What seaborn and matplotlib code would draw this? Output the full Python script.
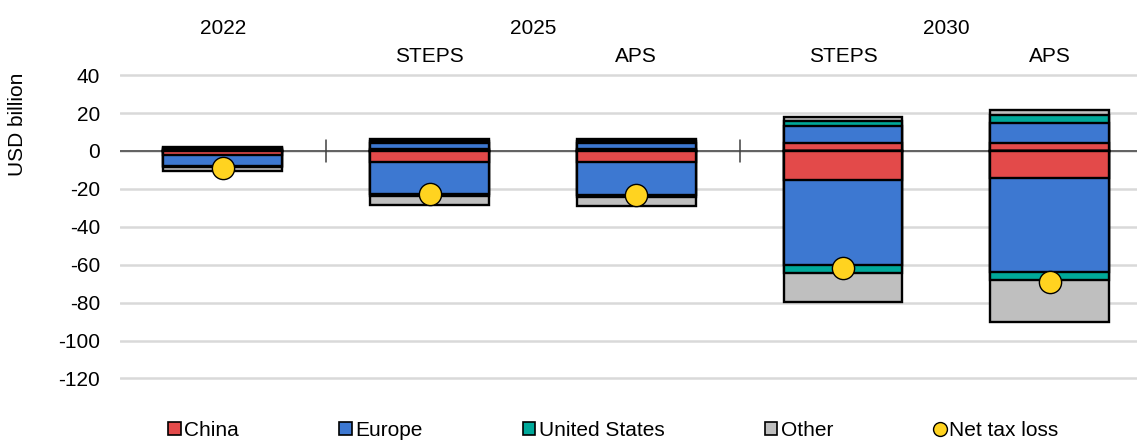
import numpy as np
import pandas as pd
import seaborn as sns
import matplotlib.pyplot as plt
from matplotlib.patches import Patch
from matplotlib.lines import Line2D
from matplotlib.transforms import blended_transform_factory

# data (USD billion)
cases = ['2022', '2025 STEPS', '2025 APS', '2030 STEPS', '2030 APS']
regions = ['China', 'Europe', 'United States', 'Other']
china_pos = [0.5, 0.8, 0.8, 4.0, 4.2]
europe_pos = [0.8, 3.3, 3.3, 9.0, 10.5]
us_pos = [0.5, 1.2, 1.2, 3.0, 4.2]
other_pos = [0.5, 1.0, 1.0, 2.0, 2.5]
china_neg = [-2.0, -6.0, -6.0, -15.3, -14.4]
europe_neg = [-6.0, -16.5, -17.0, -45.0, -49.3]
us_neg = [-0.6, -1.5, -1.5, -4.0, -4.3]
other_neg = [-1.9, -4.5, -4.5, -15.3, -22.0]
net_tax_loss = [-9.0, -22.5, -23.0, -62.0, -69.0]

colors = {'China': '#E34A4A', 'Europe': '#3D78D1',
          'United States': '#00A99A', 'Other': '#BFBFBF'}
dot_color = '#FFD320'

sns.set_style('white')
plt.rcParams['font.family'] = ['Liberation Sans', 'DejaVu Sans']
plt.rcParams['axes.unicode_minus'] = False
plt.rcParams['text.color'] = 'black'
plt.rcParams['ytick.color'] = 'black'
FS = 15

fig = plt.figure(figsize=(11.37, 4.42), dpi=100)
ax = fig.add_axes([119.5 / 1137, 0.1353, 1 - 119.5 / 1137 + 0.005, 0.7032])

pos = pd.DataFrame([china_pos, europe_pos, us_pos, other_pos], index=regions, columns=cases).T
neg = pd.DataFrame([china_neg, europe_neg, us_neg, other_neg], index=regions, columns=cases).T

# stacked bars: draw cumulative totals from the outside in
for part in (pos, neg):
    cum = part.cumsum(axis=1)
    for reg in reversed(regions):
        sns.barplot(x=cases, y=cum[reg].values, color=colors[reg], width=0.575,
                    edgecolor='black', linewidth=1.7, saturation=1, ax=ax, zorder=3)

sns.stripplot(x=cases, y=net_tax_loss, jitter=False, size=16, color=dot_color,
              edgecolor='black', linewidth=1, ax=ax, zorder=5)

ax.axhline(0, color='#404040', lw=1.1, zorder=2)
# group separators on the category axis
for xs in (0.5, 2.5):
    ax.plot([xs, xs], [-6, 6], color='#404040', lw=1.1, zorder=2)

ax.set_xlim(-0.5, 4.45)
ax.set_ylim(-122, 42)
ax.set_yticks(np.arange(-120, 41, 20))
ax.yaxis.grid(True, color='#D9D9D9', lw=1.8)
ax.set_axisbelow(True)
ax.tick_params(axis='y', length=0, labelsize=FS, pad=14, labelcolor='black')
ax.set_xticks([])
ax.set_xlabel('')
for s in ax.spines.values():
    s.set_visible(False)

fig.text(18 / 1137, 1 - 124 / 442, 'USD billion', rotation=90, ha='center', va='center',
         fontsize=FS, color='black')

# header labels
tr = blended_transform_factory(ax.transData, fig.transFigure)
for x, lab in [(0, '2022'), (1.5, '2025'), (3.5, '2030')]:
    ax.text(x, 1 - 28 / 442, lab, transform=tr, ha='center', va='center', fontsize=FS, color='black')
for x, lab in [(1, 'STEPS'), (2, 'APS'), (3, 'STEPS'), (4, 'APS')]:
    ax.text(x, 1 - 56 / 442, lab, transform=tr, ha='center', va='center', fontsize=FS, color='black')

handles = [Patch(facecolor=colors[r], edgecolor='black', linewidth=1.2) for r in regions]
handles.append(Line2D([], [], marker='o', ls='none', markersize=10, markerfacecolor=dot_color,
                      markeredgecolor='black', markeredgewidth=1))
leg = fig.legend(handles, regions + ['Net tax loss'], loc='center', bbox_to_anchor=(0.5395, 1 - 430 / 442),
                 ncol=5, frameon=False, fontsize=FS, handlelength=0.6, handleheight=0.6,
                 handletextpad=0.15, columnspacing=4.83)
for t in leg.get_texts():
    t.set_color('black')

fig.savefig('out.png', dpi=100)
